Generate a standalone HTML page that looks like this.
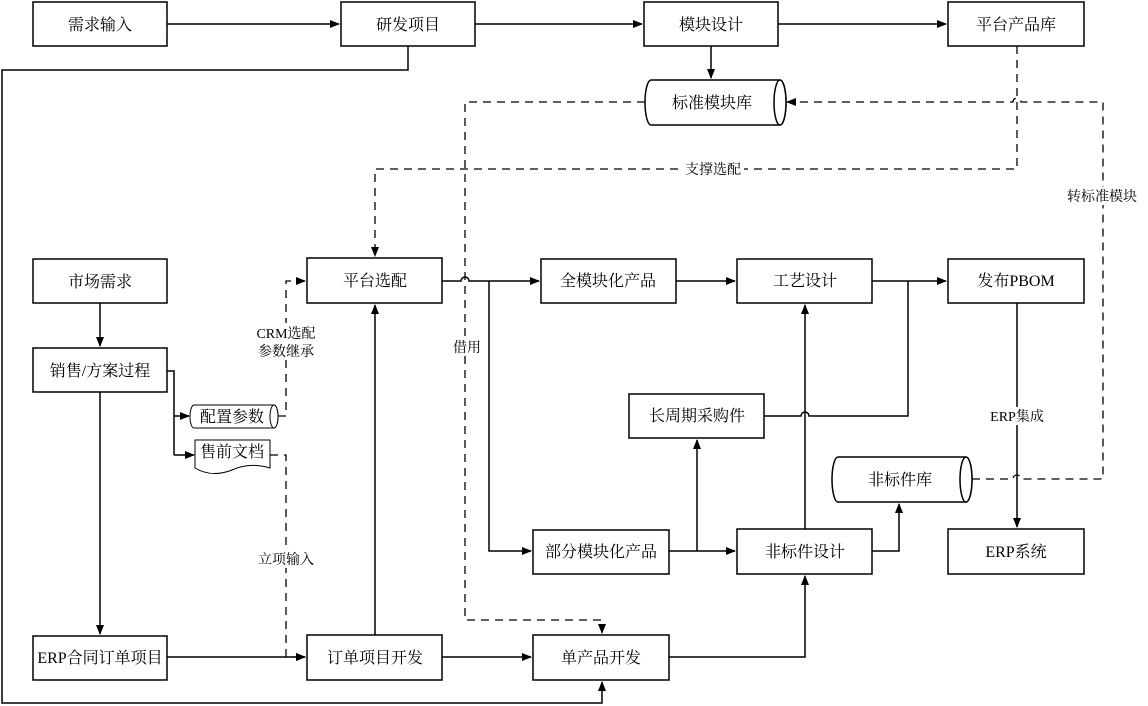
<!DOCTYPE html>
<html><head><meta charset="utf-8"><style>
html,body{margin:0;padding:0;background:#fff;}
svg{display:block;font-family:"Liberation Serif","Noto Serif CJK SC","Noto Sans CJK SC",serif;}
text{font-size:16px;fill:#000;}
.b{fill:#fff;stroke:#000;stroke-width:1.5;}
.l{fill:none;stroke:#000;stroke-width:1.5;}
.d{fill:none;stroke:#000;stroke-width:1.3;stroke-dasharray:8,6;}
.lb{fill:#fff;stroke:none;}
</style></head><body>
<svg width="1148" height="706" viewBox="0 0 1148 706">
<defs><marker id="a" markerWidth="10" markerHeight="8" refX="9" refY="4" orient="auto" markerUnits="userSpaceOnUse"><path d="M0,0L10,4L0,8z" fill="#000"/></marker></defs>

<path class="l" d="M167,24H339" marker-end="url(#a)"/>
<path class="l" d="M475,24H642" marker-end="url(#a)"/>
<path class="l" d="M778,24H946" marker-end="url(#a)"/>
<path class="l" d="M711,46V78" marker-end="url(#a)"/>
<path class="l" d="M408,46V70H2V703H602V682" marker-end="url(#a)"/>
<path class="l" d="M100,303V346" marker-end="url(#a)"/>
<path class="l" d="M100,392V634" marker-end="url(#a)"/>
<path class="l" d="M167,371H174V455"/>
<path class="l" d="M174,416H189" marker-end="url(#a)"/>
<path class="l" d="M174,455H194" marker-end="url(#a)"/>
<path class="l" d="M167,657H305" marker-end="url(#a)"/>
<path class="l" d="M442,657H531" marker-end="url(#a)"/>
<path class="l" d="M375,635V305" marker-end="url(#a)"/>
<path class="l" d="M442,281H461A4,4 0 0 1 469,281H539" marker-end="url(#a)"/>
<path class="l" d="M489,281V551H531" marker-end="url(#a)"/>
<path class="l" d="M676,281H735" marker-end="url(#a)"/>
<path class="l" d="M872,281H946" marker-end="url(#a)"/>
<path class="l" d="M764,416H801A4,4 0 0 1 809,416H908V281"/>
<path class="l" d="M669,551H735" marker-end="url(#a)"/>
<path class="l" d="M697,551V440" marker-end="url(#a)"/>
<path class="l" d="M805,529V305" marker-end="url(#a)"/>
<path class="l" d="M669,657H805V576" marker-end="url(#a)"/>
<path class="l" d="M872,551H899V504" marker-end="url(#a)"/>
<path class="l" d="M1017,303V527" marker-end="url(#a)"/>

<path class="d" d="M645,102H465V620H602V633" marker-end="url(#a)"/>
<path class="d" d="M1017,46V169H375V256" marker-end="url(#a)"/>
<path class="d" d="M972,479H1013A4,4 0 0 1 1021,479H1103V102H1021A4,4 0 0 0 1013,102H787" marker-end="url(#a)"/>
<path class="d" d="M278,416H286V281H305" marker-end="url(#a)"/>
<path class="d" d="M270,455H286V657H305" marker-end="url(#a)"/>

<rect class="b" x="33" y="2" width="134" height="44"/><text x="100" y="30" text-anchor="middle">需求输入</text>
<rect class="b" x="341" y="2" width="134" height="44"/><text x="408" y="30" text-anchor="middle">研发项目</text>
<rect class="b" x="644" y="2" width="134" height="44"/><text x="711" y="30" text-anchor="middle">模块设计</text>
<rect class="b" x="948" y="2" width="136" height="44"/><text x="1016" y="30" text-anchor="middle">平台产品库</text>
<rect class="b" x="33" y="259" width="134" height="44"/><text x="100" y="287" text-anchor="middle">市场需求</text>
<rect class="b" x="33" y="348" width="134" height="44"/><text x="100" y="376" text-anchor="middle">销售/方案过程</text>
<rect class="b" x="33" y="636" width="134" height="44"/><text x="100" y="663" text-anchor="middle">ERP合同订单项目</text>
<rect class="b" x="307" y="258" width="135" height="45"/><text x="375" y="286" text-anchor="middle">平台选配</text>
<rect class="b" x="541" y="259" width="135" height="44"/><text x="608" y="286" text-anchor="middle">全模块化产品</text>
<rect class="b" x="737" y="259" width="135" height="44"/><text x="805" y="286" text-anchor="middle">工艺设计</text>
<rect class="b" x="948" y="259" width="136" height="44"/><text x="1016" y="286" text-anchor="middle">发布PBOM</text>
<rect class="b" x="629" y="394" width="135" height="44"/><text x="697" y="421" text-anchor="middle">长周期采购件</text>
<rect class="b" x="533" y="530" width="136" height="44"/><text x="601" y="557" text-anchor="middle">部分模块化产品</text>
<rect class="b" x="737" y="529" width="135" height="45"/><text x="805" y="557" text-anchor="middle">非标件设计</text>
<rect class="b" x="948" y="529" width="136" height="45"/><text x="1016" y="557" text-anchor="middle">ERP系统</text>
<rect class="b" x="307" y="635" width="135" height="45"/><text x="375" y="663" text-anchor="middle">订单项目开发</text>
<rect class="b" x="533" y="635" width="136" height="45"/><text x="601" y="663" text-anchor="middle">单产品开发</text>

<g>
<path class="b" d="M651,80H780A6,22.5 0 0 1 780,125H651A6,22.5 0 0 1 651,80z"/>
<ellipse class="b" cx="780" cy="102.5" rx="6" ry="22.5"/>
<text x="712" y="108" text-anchor="middle">标准模块库</text>
</g>
<g>
<path class="b" d="M838,457H966A6,22.5 0 0 1 966,502H838A6,22.5 0 0 1 838,457z"/>
<ellipse class="b" cx="966" cy="479.5" rx="6" ry="22.5"/>
<text x="900" y="485" text-anchor="middle">非标件库</text>
</g>
<g>
<path class="b" d="M194,405H274A4,11.5 0 0 1 274,428H194A4,11.5 0 0 1 194,405z" style="stroke-width:1"/>
<ellipse class="b" cx="274" cy="416.5" rx="4" ry="11.5" style="stroke-width:1"/>
<text x="232" y="422" text-anchor="middle">配置参数</text>
</g>
<path class="b" d="M195,440H270V468Q250,462 232,470Q212,478 195,468z" style="stroke-width:1"/>
<text x="232" y="457" text-anchor="middle">售前文档</text>

<rect class="lb" x="682" y="160" width="62" height="18"/><text x="713" y="174" text-anchor="middle" style="font-size:14px">支撑选配</text>
<rect class="lb" x="1064" y="187" width="76" height="18"/><text x="1102" y="201" text-anchor="middle" style="font-size:14px">转标准模块</text>
<rect class="lb" x="256" y="323" width="60" height="36"/><text x="286" y="338" text-anchor="middle" style="font-size:14px">CRM选配</text><text x="286" y="356" text-anchor="middle" style="font-size:14px">参数继承</text>
<rect class="lb" x="450" y="338" width="34" height="18"/><text x="467" y="352" text-anchor="middle" style="font-size:14px">借用</text>
<rect class="lb" x="254" y="550" width="64" height="18"/><text x="286" y="564" text-anchor="middle" style="font-size:14px">立项输入</text>
<rect class="lb" x="988" y="407" width="58" height="18"/><text x="1017" y="421" text-anchor="middle" style="font-size:14px">ERP集成</text>
</svg>
</body></html>
